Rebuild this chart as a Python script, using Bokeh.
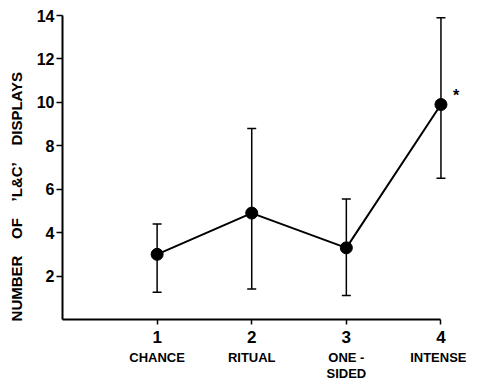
from bokeh.plotting import figure
from bokeh.models import (Range1d, FixedTicker, LinearAxis, Whisker, TeeHead,
                          ColumnDataSource)
from bokeh.core.properties import value
from bokeh.embed import file_html
from bokeh.resources import INLINE

# ---- data ----
positions = [1, 2, 3, 4]
tick_numbers = ["1", "2", "3", "4"]
categories = ["CHANCE", "RITUAL", "ONE -\nSIDED", "INTENSE"]
means = [3.0, 4.9, 3.3, 9.9]
upper = [4.4, 8.8, 5.55, 13.9]
lower = [1.25, 1.4, 1.1, 6.5]
y_ticks = [2, 4, 6, 8, 10, 12, 14]
star_x = [4.16]
star_y = [10.3]
star_text = ["*"]

FONT = "Liberation Sans"
SP = "\u00a0" * 4

src = ColumnDataSource(dict(x=positions, y=means, upper=upper, lower=lower))

p = figure(width=466, height=385, output_backend="svg", toolbar_location=None,
           x_range=Range1d(0, 4.27), y_range=Range1d(0, 14),
           min_border_left=62, min_border_top=15, min_border_right=0,
           min_border_bottom=66, x_axis_location=None)
p.outline_line_color = None
p.grid.visible = False
p.background_fill_color = "white"
p.border_fill_color = "white"

# y axis
ya = p.yaxis[0]
ya.ticker = FixedTicker(ticks=y_ticks)
ya.axis_line_width = 2
ya.major_tick_line_width = 1.5
ya.major_tick_out = 6
ya.major_tick_in = 0
ya.minor_tick_line_color = None
ya.major_label_standoff = 2
ya.major_label_text_font = FONT
ya.major_label_text_font_style = "bold"
ya.major_label_text_font_size = "16px"
ya.major_label_text_color = "black"
ya.axis_label = ("NUMBER" + SP + "OF" + SP + "\u2019L&C\u2019" + SP + "DISPLAYS"
                 + "\u00a0" * 14)
ya.axis_label_text_font = FONT
ya.axis_label_text_font_style = "bold"
ya.axis_label_text_font_size = "15px"
ya.axis_label_text_color = "black"
ya.axis_label_standoff = 9

# x axis with numbers
xa = LinearAxis(ticker=FixedTicker(ticks=positions), bounds=(0, 4))
xa.major_label_overrides = {pos: t for pos, t in zip(positions, tick_numbers)}
xa.axis_line_width = 2
xa.major_tick_line_width = 1.5
xa.major_tick_out = 5
xa.major_tick_in = 0
xa.minor_tick_line_color = None
xa.major_label_standoff = 6
xa.major_label_text_font = FONT
xa.major_label_text_font_style = "bold"
xa.major_label_text_font_size = "17px"
xa.major_label_text_color = "black"
p.add_layout(xa, "below")

# x axis with category names
xc = LinearAxis(ticker=FixedTicker(ticks=positions), bounds=(0, 4))
xc.major_label_overrides = {pos: c for pos, c in zip(positions, categories)}
xc.axis_line_color = None
xc.major_tick_line_color = None
xc.major_tick_out = 0
xc.major_tick_in = 0
xc.minor_tick_line_color = None
xc.major_label_standoff = 4
xc.major_label_text_font = FONT
xc.major_label_text_font_style = "bold"
xc.major_label_text_font_size = "13px"
xc.major_label_text_line_height = 1.1
xc.major_label_text_color = "black"
p.add_layout(xc, "below")

# error bars
w = Whisker(source=src, base="x", upper="upper", lower="lower",
            line_color="black", line_width=1.5,
            upper_head=TeeHead(size=9, line_width=1.5),
            lower_head=TeeHead(size=9, line_width=1.5))
p.add_layout(w)

p.line("x", "y", source=src, line_color="black", line_width=2)
p.scatter("x", "y", source=src, size=12, fill_color="black", line_color="black")

p.text(x=star_x, y=star_y, text=star_text, text_font=value(FONT),
       text_font_style="bold", text_font_size="16px", text_align="center",
       text_baseline="middle")

open("out.html", "w").write(file_html(p, INLINE))
